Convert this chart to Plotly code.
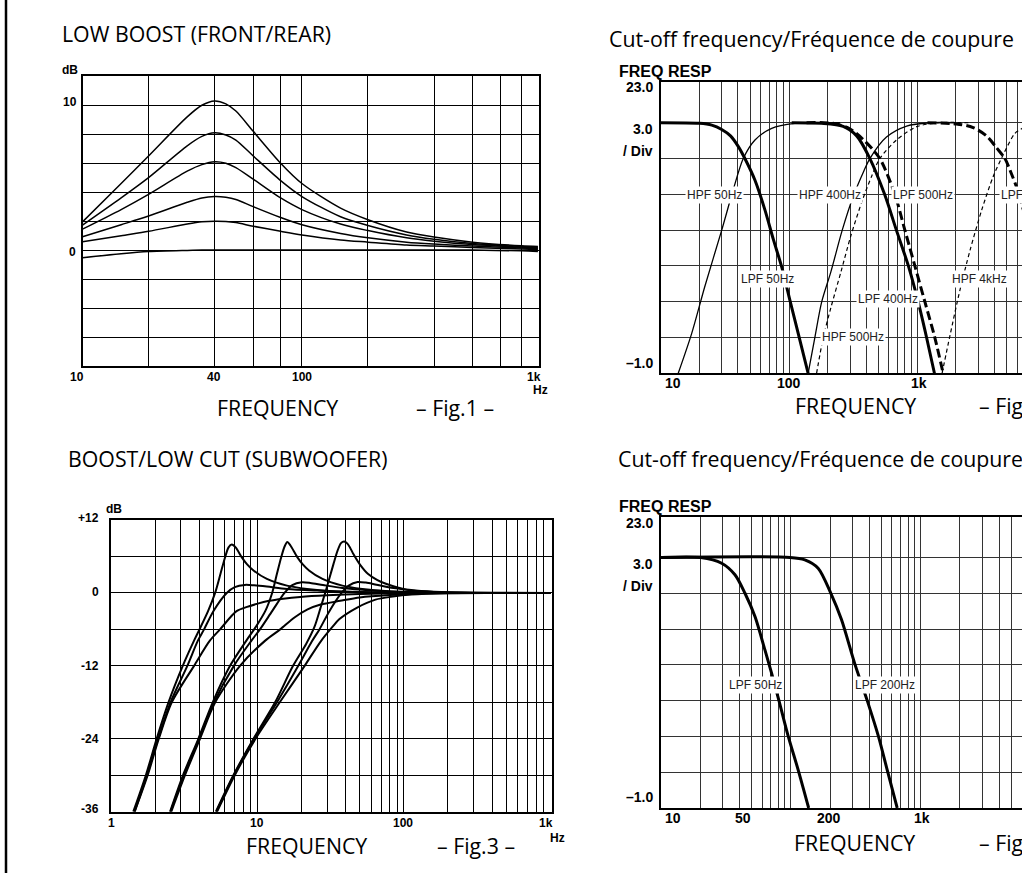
import plotly.graph_objects as go

W, H = 1022, 873

# ---------------- Fig.1  LOW BOOST (FRONT/REAR) ----------------
f1_freq = [10, 15, 20, 30, 35, 40, 45, 50, 60, 80, 100, 150, 200, 300, 400, 600, 1000, 1190]
f1_gain10 = [1.95, 4.6, 6.5, 9.2, 10.0, 10.3, 10.1, 9.6, 8.2, 6.0, 4.6, 2.9, 2.1, 1.25, 0.9, 0.55, 0.3, 0.25]
f1_gain8 = [1.72, 3.6, 5.0, 7.2, 7.85, 8.1, 7.95, 7.6, 6.5, 4.8, 3.7, 2.3, 1.7, 1.05, 0.75, 0.45, 0.25, 0.2]
f1_gain6 = [1.45, 2.8, 3.85, 5.45, 5.9, 6.1, 6.0, 5.7, 4.9, 3.6, 2.8, 1.8, 1.35, 0.85, 0.62, 0.38, 0.2, 0.15]
f1_gain4 = [0.92, 1.75, 2.35, 3.3, 3.6, 3.7, 3.65, 3.5, 3.0, 2.25, 1.75, 1.15, 0.85, 0.55, 0.42, 0.28, 0.15, 0.1]
f1_gain2 = [0.57, 1.0, 1.3, 1.8, 1.95, 2.0, 1.98, 1.9, 1.65, 1.3, 1.05, 0.7, 0.55, 0.35, 0.28, 0.18, 0.08, 0.05]
f1_gain0 = [-0.53, -0.25, -0.1, -0.02, 0, 0, 0, 0, 0, 0, 0, 0, 0, 0, 0, 0, -0.05, -0.1]
f1_xgrid = [20, 40, 60, 80, 100, 200, 400, 600, 800, 1000]
f1_ygrid = [-6, -4, -2, 0, 2, 4, 6, 8, 10]

# ---------------- Fig.2  Cut-off frequency (crossover) ----------------
f2_hpf50_f = [13.7, 17.4, 22.1, 29.9, 36.8, 44.0, 54.3, 73.3, 111, 159, 250]
f2_hpf50_db = [-21, -17.7, -13.7, -9.0, -5.6, -3.0, -1.45, -0.47, -0.06, 0, 0]
f2_lpf50_f = [10, 20, 25, 29.9, 35, 40.3, 45.3, 54.2, 64.9, 75.6, 87.8, 101.8, 118.2, 141]
f2_lpf50_db = [0, -0.05, -0.2, -0.56, -1.1, -2.0, -3.0, -4.8, -7.3, -9.8, -12.1, -14.9, -17.7, -21]
f2_hpf400_f = [141, 159, 180, 212, 260, 316, 381, 427, 575, 826, 1250, 2000]
f2_hpf400_db = [-21, -18, -15, -12.5, -9, -6.2, -4.1, -3.0, -1.2, -0.28, 0, 0]
f2_lpf400_f = [105, 180, 264, 337, 427, 556, 687, 852, 1015, 1181, 1360]
f2_lpf400_db = [0, -0.05, -0.3, -1.1, -3.0, -6.0, -9.0, -12.0, -15.0, -18.0, -21.0]
f2_hpf500_f = [164, 185, 212, 254, 303, 373, 440, 510, 688, 989, 1500, 2500]
f2_hpf500_db = [-21, -18, -15.5, -12.5, -9.5, -6.5, -4.5, -3.0, -1.45, -0.33, 0, 0]
f2_lpf500_f = [137, 220, 297, 378, 510, 668, 800, 957, 1145, 1369, 1590]
f2_lpf500_db = [0, -0.05, -0.5, -1.4, -3.0, -6.0, -9.0, -12.0, -15.0, -18.0, -21.0]
f2_hpf4k_f = [1560, 1800, 2152, 2575, 3179, 3906, 4663, 5755, 6500, 8000, 10000, 20000]
f2_hpf4k_db = [-21, -17.8, -14.0, -10.7, -7.3, -4.5, -2.7, -0.9, -0.5, -0.15, 0, 0]
f2_lpf4k_f = [1200, 2019, 2725, 3464, 4145, 4815, 5426, 5939, 7000, 8500, 10000, 12000]
f2_lpf4k_db = [0, -0.1, -0.4, -1.1, -2.1, -3.0, -4.3, -5.4, -8, -11.5, -14.5, -18]
f2_labels = ["HPF 50Hz", "HPF 400Hz", "LPF 500Hz", "LPF 4kHz", "LPF 50Hz", "HPF 4kHz", "LPF 400Hz", "HPF 500Hz"]

# ---------------- Fig.3  BOOST/LOW CUT (SUBWOOFER) ----------------
f3_g1_boost_f = [1.42, 1.73, 2.05, 2.47, 3.09, 3.69, 4.02, 4.6, 5.14, 5.6, 6.0, 6.35, 6.68, 7.1, 7.8, 8.5, 9.4, 11.6, 15.9, 21.8, 33, 60, 120, 1000]
f3_g1_boost_db = [-36, -30, -24, -18, -12, -7.85, -6, -3, 0, 3.2, 5.8, 7.5, 7.97, 7.5, 5.9, 4.7, 3.7, 2.3, 1.2, 0.66, 0.27, 0.08, 0, 0]
f3_g1_bump_f = [1.45, 1.76, 2.1, 2.55, 3.32, 3.92, 4.32, 5.0, 6.17, 7.0, 8.2, 9.5, 11.6, 15.9, 25.8, 37.5, 60, 120, 1000]
f3_g1_bump_db = [-36, -30, -24, -18, -12, -7.85, -6, -3, 0, 0.95, 1.32, 1.25, 1.05, 0.66, 0.38, 0.22, 0.1, 0.02, 0]
f3_g1_flat_f = [1.45, 1.78, 2.12, 2.6, 3.69, 4.73, 5.55, 7.2, 8.5, 9.9, 12, 15, 19.6, 30, 50, 100, 200, 1000]
f3_g1_flat_db = [-36, -30, -24, -18, -12, -7.85, -6, -3.0, -2.3, -1.8, -1.3, -0.95, -0.65, -0.38, -0.18, -0.05, 0, 0]

f3_g2_boost_f = [2.53, 3.1, 3.95, 4.95, 6.5, 8.4, 9.8, 11.3, 12.6, 13.6, 14.5, 15.3, 16.0, 16.8, 18.7, 20.4, 22.5, 27.8, 38, 52, 79, 140, 300, 1000]
f3_g2_boost_db = [-36, -30, -24, -18, -12, -7.85, -5.5, -3, 0, 3.2, 5.8, 7.6, 8.4, 7.8, 5.9, 4.7, 3.7, 2.3, 1.2, 0.66, 0.27, 0.08, 0, 0]
f3_g2_bump_f = [2.55, 3.15, 4.0, 5.05, 6.9, 9.1, 10.4, 12.6, 15.3, 17.3, 20.1, 23, 28, 38, 60, 90, 150, 300, 1000]
f3_g2_bump_db = [-36, -30, -24, -18, -12, -7.85, -6, -3, 0, 1.3, 1.76, 1.65, 1.3, 0.8, 0.4, 0.2, 0.05, 0, 0]
f3_g2_flat_f = [2.58, 3.2, 4.05, 5.15, 7.6, 11.3, 14.3, 18, 22, 27, 36.7, 50, 80, 130, 250, 1000]
f3_g2_flat_db = [-36, -30, -24, -18, -12, -7.85, -6, -4.0, -2.7, -1.9, -1.3, -0.75, -0.35, -0.12, 0, 0]

f3_g3_boost_f = [5.2, 6.85, 9.4, 13.2, 17.5, 21.5, 24.5, 27, 29, 31, 33, 35.3, 37.2, 39.1, 41, 43, 45.2, 50, 57, 66, 75.4, 105, 150, 200, 400, 1000]
f3_g3_boost_db = [-36, -30, -24, -18, -12, -8.4, -5.6, -2.4, 0, 2.4, 4.7, 7.0, 8.2, 8.46, 8.15, 7.4, 6.4, 4.7, 3.1, 2.1, 1.5, 0.5, 0.2, 0.08, 0, 0]
f3_g3_bump_f = [5.25, 6.9, 9.5, 13.6, 19, 23.5, 26.5, 31, 37.5, 42, 48.3, 55, 65, 85, 120, 180, 300, 1000]
f3_g3_bump_db = [-36, -30, -24, -18, -12, -8, -6, -3, 0, 1.2, 1.8, 1.7, 1.35, 0.8, 0.4, 0.15, 0.03, 0]
f3_g3_flat_f = [5.3, 7.0, 9.7, 14.2, 21, 27, 32.5, 36.3, 48, 64, 84, 112, 200, 400, 1000]
f3_g3_flat_db = [-36, -30, -24, -18, -12, -8, -5.6, -4.3, -2.4, -1.1, -0.6, -0.27, -0.05, 0, 0]
f3_xgrid = [2, 3, 4, 5, 6, 7, 8, 9, 10, 20, 30, 40, 50, 60, 70, 80, 90, 100, 200, 300, 400, 500, 600, 700, 800, 900]
f3_ygrid = [-30, -24, -18, -12, -6, 0, 6]

# ---------------- Fig.4  Cut-off frequency (subwoofer LPF) ----------------
f4_lpf50_f = [10, 20.2, 29.3, 37.1, 44.3, 52.9, 63.1, 71, 80.9, 95.4, 113.7, 137]
f4_lpf50_db = [0, 0, -0.48, -1.45, -3.0, -4.95, -7.75, -9.7, -12.0, -15.0, -17.8, -21]
f4_lpf200_f = [10, 98.5, 128, 162, 203, 245, 310, 387, 472, 557, 658]
f4_lpf200_db = [0, 0, -0.2, -0.9, -3.0, -5.2, -8.9, -12.0, -15.0, -18.0, -21]
f4_labels = ["LPF 50Hz", "LPF 200Hz"]

ap_xgrid = [20, 30, 40, 50, 60, 70, 80, 90, 100, 200, 300, 400, 500, 600, 700, 800, 900,
            1000, 2000, 3000, 4000, 5000, 6000, 7000, 8000, 9000]
ap_ygrid = [-18, -15, -12, -9, -6, -3, 0]

fig = go.Figure()


def line(xs, ys, ax, width, dash="solid"):
    fig.add_trace(go.Scatter(
        x=xs, y=ys, mode="lines", xaxis="x" + ax, yaxis="y" + ax,
        line=dict(color="black", width=width, shape="spline", smoothing=0.8, dash=dash),
        hoverinfo="skip", showlegend=False))


for g in [f1_gain10, f1_gain8, f1_gain6, f1_gain4, f1_gain2, f1_gain0]:
    line(f1_freq, g, "", 1.5)

line(f2_hpf50_f, f2_hpf50_db, "2", 1.3)
line(f2_lpf50_f, f2_lpf50_db, "2", 3)
line(f2_hpf400_f, f2_hpf400_db, "2", 1.3)
line(f2_lpf400_f, f2_lpf400_db, "2", 3)
line(f2_hpf500_f, f2_hpf500_db, "2", 1.2, "4px,3px")
line(f2_lpf500_f, f2_lpf500_db, "2", 3, "9px,4px")
line(f2_hpf4k_f, f2_hpf4k_db, "2", 1.2, "4px,3px")
line(f2_lpf4k_f, f2_lpf4k_db, "2", 3, "9px,4px")

for xs, ys in [(f3_g1_boost_f, f3_g1_boost_db), (f3_g1_bump_f, f3_g1_bump_db), (f3_g1_flat_f, f3_g1_flat_db),
               (f3_g2_boost_f, f3_g2_boost_db), (f3_g2_bump_f, f3_g2_bump_db), (f3_g2_flat_f, f3_g2_flat_db),
               (f3_g3_boost_f, f3_g3_boost_db), (f3_g3_bump_f, f3_g3_bump_db), (f3_g3_flat_f, f3_g3_flat_db)]:
    line(xs, ys, "3", 2)

line(f4_lpf50_f, f4_lpf50_db, "4", 3)
line(f4_lpf200_f, f4_lpf200_db, "4", 3)


def dom_x(a, b):
    return [a / W, min(b / W, 1.0)]


def dom_y(top, bottom):
    return [1 - bottom / H, 1 - top / H]


def xax(dom, rng, grid, anchor, mirror=True, gcol="black"):
    return dict(type="log", domain=dom, range=rng, tickvals=grid, showticklabels=False, ticks="",
                showgrid=True, gridcolor=gcol, gridwidth=1, showline=True, linecolor="black",
                linewidth=2, mirror=mirror, zeroline=False, anchor=anchor, fixedrange=True)


def yax(dom, rng, grid, anchor, mirror=True, gcol="black"):
    return dict(domain=dom, range=rng, tickvals=grid, showticklabels=False, ticks="",
                showgrid=True, gridcolor=gcol, gridwidth=1, showline=True, linecolor="black",
                linewidth=2, mirror=mirror, zeroline=False, anchor=anchor, fixedrange=True)


fig.update_layout(
    width=W, height=H, margin=dict(l=0, r=0, t=0, b=0),
    paper_bgcolor="white", plot_bgcolor="white",
    xaxis=xax(dom_x(82.5, 538.9), [1, 3.08], f1_xgrid, "y"),
    yaxis=yax(dom_y(76.3, 366), [-8, 12], f1_ygrid, "x"),
    xaxis2=xax(dom_x(660.7, 1100), [1, 3.816], ap_xgrid, "y2", True, "#333"),
    yaxis2=yax(dom_y(81.7, 373.3), [-21, 3.44], ap_ygrid, "x2", False, "#333"),
    xaxis3=xax(dom_x(111, 551.8), [0, 3.01], f3_xgrid, "y3"),
    yaxis3=yax(dom_y(520, 811.7), [-36, 12], f3_ygrid, "x3"),
    xaxis4=xax(dom_x(661, 1100), [1, 3.779], ap_xgrid, "y4", True, "#333"),
    yaxis4=yax(dom_y(516.7, 808), [-21, 3.42], ap_ygrid, "x4", False, "#333"),
)

anns = []


def ann(text, x, y, size=12, bold=False, family="Liberation Sans", xanchor="center",
        color="black", bg=None):
    d = dict(text=("<b>%s</b>" % text) if bold else text, x=x / W, y=1 - y / H,
             xref="paper", yref="paper", showarrow=False, xanchor=xanchor, yanchor="middle",
             font=dict(size=size, family=family, color=color))
    if bg:
        d.update(bgcolor=bg, borderpad=1)
    anns.append(d)


TF = "Open Sans"
TS = 21.3
# titles
ann("LOW BOOST (FRONT/REAR)", 60, 33.5, TS, family=TF, xanchor="left")
ann("Cut-off frequency/Fréquence de coupure", 607, 38.5, TS, family=TF, xanchor="left")
ann("BOOST/LOW CUT (SUBWOOFER)", 66, 458.5, TS, family=TF, xanchor="left")
ann("Cut-off frequency/Fréquence de coupure", 616, 458.5, TS, family=TF, xanchor="left")
# FREQUENCY / Fig labels
ann("FREQUENCY", 277, 407, TS, family=TF)
ann("– Fig.1 –", 455, 407, TS, family=TF)
ann("FREQUENCY", 855, 405, TS, family=TF)
ann("– Fig.2 –", 977, 405, TS, family=TF, xanchor="left")
ann("FREQUENCY", 306, 845, TS, family=TF)
ann("– Fig.3 –", 476, 845, TS, family=TF)
ann("FREQUENCY", 854, 842, TS, family=TF)
ann("– Fig.4 –", 977, 842, TS, family=TF, xanchor="left")

# Fig.1 axis labels
ann("dB", 69.6, 70, 12, True)
ann("10", 69.6, 102, 12, True)
ann("0", 72.5, 252, 12, True)
for t, x in [("10", 76.8), ("40", 213.6), ("100", 301.8), ("1k", 534)]:
    ann(t, x, 377, 12, True)
ann("Hz", 540, 390, 12, True)

# Fig.3 axis labels
ann("dB", 113.6, 508.5, 12, True)
for t, y in [("+12", 517.5), ("0", 592.3), ("-12", 665.5), ("-24", 738.5), ("-36", 809)]:
    ann(t, 101, y, 12, True, xanchor="right")
for t, x in [("1", 111.8), ("10", 257), ("100", 402.5), ("1k", 546)]:
    ann(t, x, 823, 12, True)
ann("Hz", 557, 838, 12, True)

# Fig.2 / Fig.4 axis labels
ann("FREQ RESP", 617, 71.7, 16, True, xanchor="left")
ann("23.0", 655, 87.3, 14, True, xanchor="right")
ann("3.0", 655, 129.3, 14, True, xanchor="right")
ann("/ Div", 655, 150.7, 14, True, xanchor="right")
ann("–1.0", 655, 362.7, 14, True, xanchor="right")
for t, x in [("10", 673.3), ("100", 788.7), ("1k", 919.3)]:
    ann(t, x, 383.3, 14, True)

ann("FREQ RESP", 617, 506.7, 16, True, xanchor="left")
ann("23.0", 655, 522.7, 14, True, xanchor="right")
ann("3.0", 655, 564.3, 14, True, xanchor="right")
ann("/ Div", 655, 585.7, 14, True, xanchor="right")
ann("–1.0", 655, 797.3, 14, True, xanchor="right")
for t, x in [("10", 673.3), ("50", 743), ("200", 829.3), ("1k", 922.3)]:
    ann(t, x, 818.3, 14, True)

# curve labels Fig.2
lab2_pos = [(714.7, 195), (830, 195), (922.7, 195), (1027, 195), (767.3, 279), (979, 279), (888.3, 299.3), (853.3, 336.7)]
for t, (x, y) in zip(f2_labels, lab2_pos):
    ann(t, x, y, 12, color="#222", bg="white")
lab4_pos = [(755, 685), (885, 685)]
for t, (x, y) in zip(f4_labels, lab4_pos):
    ann(t, x, y, 12, color="#222", bg="white")

fig.update_layout(annotations=anns)

# page border line at the left
fig.add_shape(type="line", xref="paper", yref="paper", x0=6 / W, x1=6 / W, y0=0, y1=1,
              line=dict(color="black", width=2.5))

fig.write_html("out.html", config={"displayModeBar": False},
               post_script="document.body.style.margin='0px';")
